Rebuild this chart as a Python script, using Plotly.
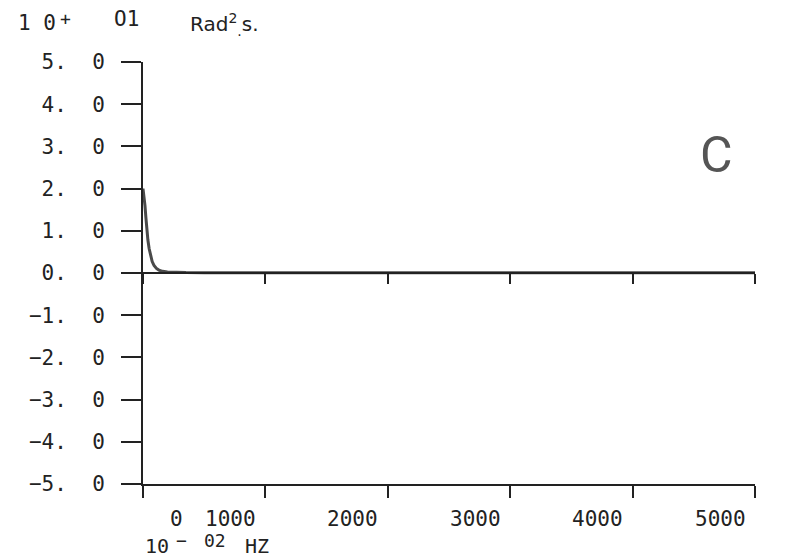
import plotly.graph_objects as go

# Spectrum, x in 10^-2 Hz, y in 10^1 Rad^2 s
freq = [0, 8, 16, 24, 32, 40, 50, 60, 75, 90, 110, 130, 160, 200, 260, 350, 500,
        1000, 2000, 3000, 4000, 5000]
psd = [2.0, 1.85, 1.6, 1.3, 1.0, 0.78, 0.58, 0.42, 0.27, 0.18, 0.11, 0.07, 0.04,
       0.025, 0.015, 0.01, 0.008, 0.005, 0.004, 0.003, 0.003, 0.003]

y_tick_vals = [-5, -4, -3, -2, -1, 0, 1, 2, 3, 4, 5]
y_tick_text = ["\u22125.\u00a0\u00a00", "\u22124.\u00a0\u00a00", "\u22123.\u00a0\u00a00",
               "\u22122.\u00a0\u00a00", "\u22121.\u00a0\u00a00", "0.\u00a0\u00a00",
               "1.\u00a0\u00a00", "2.\u00a0\u00a00", "3.\u00a0\u00a00", "4.\u00a0\u00a00",
               "5.\u00a0\u00a00"]
x_tick_vals = [0, 1000, 2000, 3000, 4000, 5000]
x_tick_text = ["0", "1000", "2000", "3000", "4000", "5000"]

MONO = "DejaVu Sans Mono"
INK = "#222222"

fig = go.Figure()
fig.add_trace(go.Scatter(x=freq, y=psd, mode="lines",
                         line=dict(color="#4a4a4a", width=3), showlegend=False,
                         hoverinfo="skip"))

annotations = []
for v, t in zip(x_tick_vals, x_tick_text):
    annotations.append(dict(x=v, y=0, xref="x", yref="paper", text=t,
                            showarrow=False, xanchor="center", yanchor="top",
                            xshift=(33 if v == 0 else -35), yshift=-21,
                            font=dict(family=MONO, size=21, color=INK)))


def pa(px, py, text, size=21, family=MONO, color=INK, xanchor="left"):
    # place by window pixel (converted to paper coords of the plot area)
    return dict(x=(px - 143) / 612.0, y=(484 - py) / 422.0, xref="paper", yref="paper",
                text=text, showarrow=False, xanchor=xanchor, yanchor="middle",
                font=dict(family=family, size=size, color=color))


annotations += [
    pa(16, 23, "1\u00a00"),
    pa(58, 19, "+", size=18),
    pa(112, 19, "O1"),
    pa(188, 24, "Rad<sup>2</sup><sub>.</sub>s.", size=20, family="DejaVu Sans"),
    pa(143, 546, "10", size=20),
    pa(174, 540, "\u2212", size=18),
    pa(202, 540, "02", size=18),
    pa(243, 546, "HZ", size=20),
    pa(716, 155, "C", size=50, family="Roboto", color="#555555", xanchor="center"),
]

fig.update_layout(
    width=793, height=550,
    margin=dict(l=135, r=46, t=54, b=74),
    paper_bgcolor="white", plot_bgcolor="white",
    showlegend=False,
    xaxis=dict(range=[0, 5000], tickvals=x_tick_vals, showticklabels=False,
               ticks="outside", ticklen=12, tickwidth=2, tickcolor=INK,
               showline=True, linecolor=INK, linewidth=2, showgrid=False,
               zeroline=False, anchor="y"),
    xaxis2=dict(range=[0, 5000], tickvals=x_tick_vals, showticklabels=False,
                ticks="outside", ticklen=10, tickwidth=2, tickcolor=INK,
                showline=True, linecolor=INK, linewidth=2, showgrid=False,
                zeroline=False, overlaying="x", anchor="free", position=0.5),
    yaxis=dict(range=[-5, 5], tickvals=y_tick_vals, ticktext=y_tick_text,
               ticks="outside", ticklen=20, tickwidth=2, tickcolor=INK,
               ticklabelstandoff=12,
               tickfont=dict(family=MONO, size=21, color=INK),
               showline=True, linecolor=INK, linewidth=2, showgrid=False,
               zeroline=False),
    annotations=annotations,
)
fig.add_trace(go.Scatter(x=[None], y=[None], xaxis="x2", yaxis="y",
                         showlegend=False, hoverinfo="skip"))

fig.write_html("out.html")
